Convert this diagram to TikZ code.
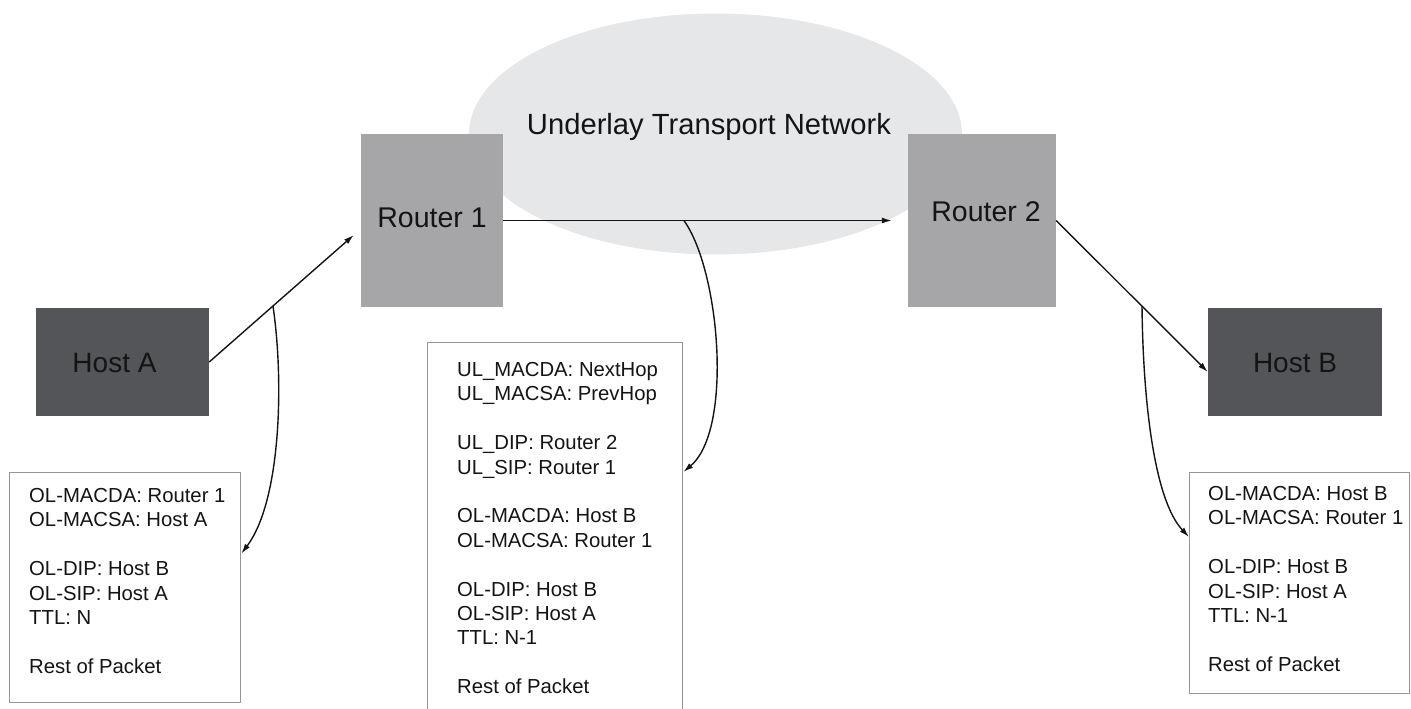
\documentclass[tikz,border=0pt]{standalone}
\usepackage{fontspec}
\setmainfont{Liberation Sans}
\usetikzlibrary{shapes.geometric,arrows.meta,calc}
\definecolor{hostfill}{RGB}{84,85,89}
\definecolor{routerfill}{RGB}{166,166,168}
\definecolor{netfill}{RGB}{230,231,232}
\definecolor{pktdraw}{RGB}{150,150,150}
\definecolor{ink}{RGB}{20,20,20}
\begin{document}
\begin{tikzpicture}[x=1pt,y=-1pt,
  host/.style={rectangle, fill=hostfill, inner sep=0pt, text=ink, font=\fontsize{28}{32}\selectfont},
  router/.style={rectangle, fill=routerfill, inner sep=0pt, text=ink, font=\fontsize{28.5}{32}\selectfont},
  netcloud/.style={ellipse, fill=netfill, inner sep=0pt},
  biglabel/.style={inner sep=0pt, text=ink, font=\fontsize{29.2}{33}\selectfont},
  pkt/.style={rectangle, draw=pktdraw, line width=1.3pt, fill=white, inner sep=0pt, anchor=north west},
  pkttext/.style={anchor=north west, align=left, inner sep=0pt, text=ink, font=\fontsize{20.3}{24.4}\selectfont},
  arr/.style={draw=ink, line width=1.4pt, -{Latex[length=10pt,width=6pt]}},
  ]
\useasboundingbox (0,0) rectangle (1411,709);
\clip (0,0) rectangle (1411,709);

% underlay network
\node[netcloud, minimum width=493pt, minimum height=241pt] (net) at (715.5,134) {};
\node[biglabel, anchor=base] (netlabel) at (709,134) {Underlay Transport Network};

% routers and hosts
\node[router, minimum width=142pt, minimum height=173pt, text height=20pt, text depth=7pt] (router1) at (432,220.5) {Router 1};
\node[router, minimum width=148pt, minimum height=173pt, text height=20pt, text depth=19pt] (router2) at (982,220.5) {\hspace*{8pt}Router 2};
\node[host, minimum width=173pt, minimum height=108pt, text height=20pt, text depth=0pt] (hostA) at (122.5,362) {Host A\hspace*{16pt}};
\node[host, minimum width=174pt, minimum height=108pt, text height=20pt, text depth=0pt] (hostB) at (1295,362) {Host B};

% packet boxes
\node[pkt, minimum width=231pt, minimum height=230pt] (pkt1) at (9,472) {};
\node[pkt, minimum width=255pt, minimum height=380pt] (pkt2) at (427,342) {};
\node[pkt, minimum width=220pt, minimum height=221pt] (pkt3) at (1189,472) {};

\node[pkttext] (txt1) at (29,488.2) {OL-MACDA: Router 1\\OL-MACSA: Host A\\[24.4pt]OL-DIP: Host B\\OL-SIP: Host A\\TTL: N\\[24.4pt]Rest of Packet};
\node[pkttext] (txt2) at (457,362.2) {UL\_MACDA: NextHop\\UL\_MACSA: PrevHop\\[24.4pt]UL\_DIP: Router 2\\UL\_SIP: Router 1\\[24.4pt]OL-MACDA: Host B\\OL-MACSA: Router 1\\[24.4pt]OL-DIP: Host B\\OL-SIP: Host A\\TTL: N-1\\[24.4pt]Rest of Packet};
\node[pkttext] (txt3) at (1208,486.2) {OL-MACDA: Host B\\OL-MACSA: Router 1\\[24.4pt]OL-DIP: Host B\\OL-SIP: Host A\\TTL: N-1\\[24.4pt]Rest of Packet};

% connectors
\coordinate (tipA) at ([xshift=-7pt,yshift=-14.5pt]router1.west);
\draw[arr] (hostA.east) -- (tipA);
\coordinate (a1) at ($(hostA.east)!0.441!(tipA)$);
\draw[arr] (a1) .. controls +(11,74) and +(40,-53) .. ([yshift=34pt]pkt1.east);

\coordinate (tipR) at ([xshift=-16pt]router2.west);
\draw[arr] (router1.east) -- (tipR);
\coordinate (a2) at ($(router1.east)!0.465!(tipR)$);
\draw[arr] (a2) .. controls +(36,50) and +(50,-42) .. ([yshift=-130pt]pkt2.north east);

\coordinate (tipB) at ([yshift=-10pt]hostB.west);
\draw[arr] (router2.east) -- (tipB);
\coordinate (a3) at ($(router2.east)!0.566!(tipB)$);
\draw[arr] (a3) .. controls +(1,94) and +(-35,-37) .. ([yshift=-65pt]pkt3.north west);
\end{tikzpicture}
\end{document}
